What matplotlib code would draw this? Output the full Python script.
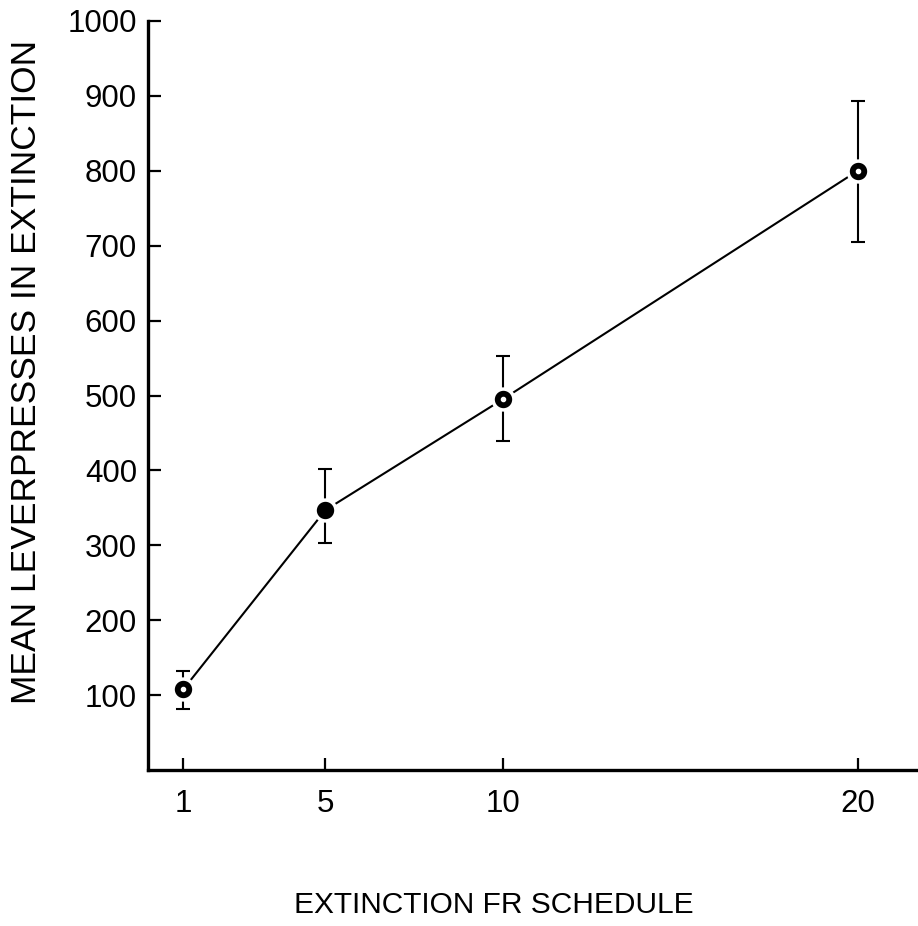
import numpy as np
import matplotlib.pyplot as plt

# mean extinction responding for each FR schedule, with error bar limits
fr_schedule = [1, 5, 10, 20]
mean_presses = [108, 347, 495, 800]
err_low = [81, 303, 439, 705]
err_high = [132, 402, 553, 893]
hollow_centre = [True, False, True, True]

y_ticks = [100, 200, 300, 400, 500, 600, 700, 800, 900, 1000]
x_ticks = [1, 5, 10, 20]

plt.rcParams['font.family'] = ['Liberation Sans', 'DejaVu Sans']

fig = plt.figure(figsize=(9.18, 9.26), dpi=100, facecolor='w')
ax = fig.add_axes([148/918, 156/926, 1 - 148/918, (770 - 21)/926])

x = np.array(fr_schedule)
y = np.array(mean_presses)
yerr = [y - np.array(err_low), np.array(err_high) - y]

# connecting line and error bars
ax.plot(x, y, color='k', lw=1.5, zorder=2)
ax.errorbar(x, y, yerr=yerr, fmt='none', ecolor='k', elinewidth=1.5,
            capsize=5, capthick=1.5, zorder=3)

# markers with a white rim so the line stops short of each point
ax.plot(x, y, 'o', ms=15, mfc='k', mec='w', mew=2.5, zorder=4)
for xi, yi, hc in zip(x, y, hollow_centre):
    if hc:
        ax.plot(xi, yi, 'o', ms=3, mfc='w', mec='w', zorder=5)

ax.set_xlim(0, 21.7)
ax.set_ylim(0, 1000)
ax.set_xticks(x_ticks)
ax.set_yticks(y_ticks)

for side in ['top', 'right']:
    ax.spines[side].set_visible(False)
for side in ['left', 'bottom']:
    ax.spines[side].set_linewidth(2.4)

ax.tick_params(axis='both', direction='in', length=9, width=1.6,
               labelsize=22.5)
ax.tick_params(axis='y', pad=8)
ax.tick_params(axis='x', pad=14)

ax.set_ylabel('MEAN LEVERPRESSES IN EXTINCTION', fontsize=25.5)
ax.yaxis.set_label_coords(-0.136, 0.531)
ax.set_xlabel('EXTINCTION FR SCHEDULE', fontsize=21.5)
ax.xaxis.set_label_coords(0.449, -0.161)

fig.savefig('out.png', dpi=100, facecolor='w')
